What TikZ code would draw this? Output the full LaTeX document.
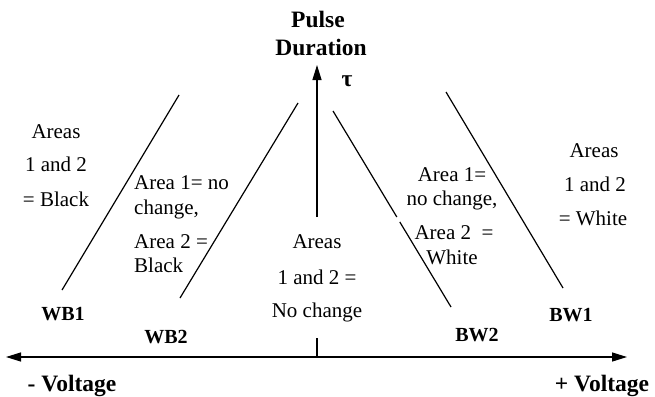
\documentclass[tikz,border=0pt]{standalone}
\usepackage{fontspec}
\setmainfont{Liberation Serif}
\usetikzlibrary{arrows.meta}
\tikzset{
  txt/.style={font=\fontsize{21}{24}\selectfont, inner sep=0pt, text height=14pt, text depth=0pt},
  btxt/.style={font=\fontsize{20}{24}\selectfont\bfseries, inner sep=0pt, text height=13.5pt, text depth=0pt},
  head/.style={font=\fontsize{23.5}{26}\selectfont\bfseries, inner sep=0pt, text height=15.5pt, text depth=0pt},
  axis/.style={line width=1.3pt, -{Triangle[length=15pt,width=9pt]}},
  bound/.style={line width=1.2pt},
}
\begin{document}
\begin{tikzpicture}[x=1pt,y=-1pt]
\useasboundingbox (0,0) rectangle (655,396);

% axes
\coordinate (O) at (317,357);
\coordinate (L) at (6,357);
\coordinate (R) at (627,357);
\coordinate (T) at (317,65);
\coordinate (vlo) at (317,338);
\coordinate (vhi) at (317,217);
\draw[axis] (O) -- (L);
\draw[axis] (O) -- (R);
\draw[bound] (O) -- (vlo);
\draw[axis] (vhi) -- (T);

% threshold lines
\coordinate (wb1a) at (62,290);  \coordinate (wb1b) at (179,95);
\coordinate (wb2a) at (180,298); \coordinate (wb2b) at (298,103);
\coordinate (bw2a) at (333,111); \coordinate (bw2b) at (451,307);
\coordinate (bw1a) at (446,92);  \coordinate (bw1b) at (563,288);
\draw[bound] (wb1a) -- (wb1b);
\draw[bound] (wb2a) -- (wb2b);
\path (bw2a) -- (bw2b) coordinate[pos=0.541] (g1) coordinate[pos=0.566] (g2);
\draw[bound] (bw2a) -- (g1);
\draw[bound] (g2) -- (bw2b);
\draw[bound] (bw1a) -- (bw1b);

% axis titles
\node[head] (p1) at (318,20) {Pulse};
\node[head] (p2) at (321,48) {Duration};
\node[head] (tau) at (347,79) {τ};
\node[head] (vm) at (72,384) {- Voltage};
\node[head] (vp) at (602,384) {+ Voltage};

% line labels
\node[btxt] (lwb1) at (63,314) {WB1};
\node[btxt] (lwb2) at (166,337) {WB2};
\node[btxt] (lbw2) at (477,335) {BW2};
\node[btxt] (lbw1) at (571,315) {BW1};

% region texts
\node[txt] (a1) at (56,131) {Areas};
\node[txt] (a2) at (56,164) {1 and 2};
\node[txt] (a3) at (56,199) {= Black};

\node[txt, anchor=west] (b1) at (134,182) {Area 1= no};
\node[txt, anchor=west] (b2) at (134,207) {change,};
\node[txt, anchor=west] (b3) at (134,241) {Area 2 =};
\node[txt, anchor=west] (b4) at (134,265) {Black};

\node[txt] (c1) at (317,241) {Areas};
\node[txt] (c2) at (317,277) {1 and 2 =};
\node[txt] (c3) at (317,310) {No change};

\node[txt] (d1) at (452,174) {Area 1=};
\node[txt] (d2) at (452,198) {no change,};
\node[txt] (d3) at (454,232) {Area 2~ =};
\node[txt] (d4) at (452,257) {White};

\node[txt] (e1) at (594,150) {Areas};
\node[txt] (e2) at (595,184) {1 and 2};
\node[txt] (e3) at (593,218) {= White};
\end{tikzpicture}
\end{document}
